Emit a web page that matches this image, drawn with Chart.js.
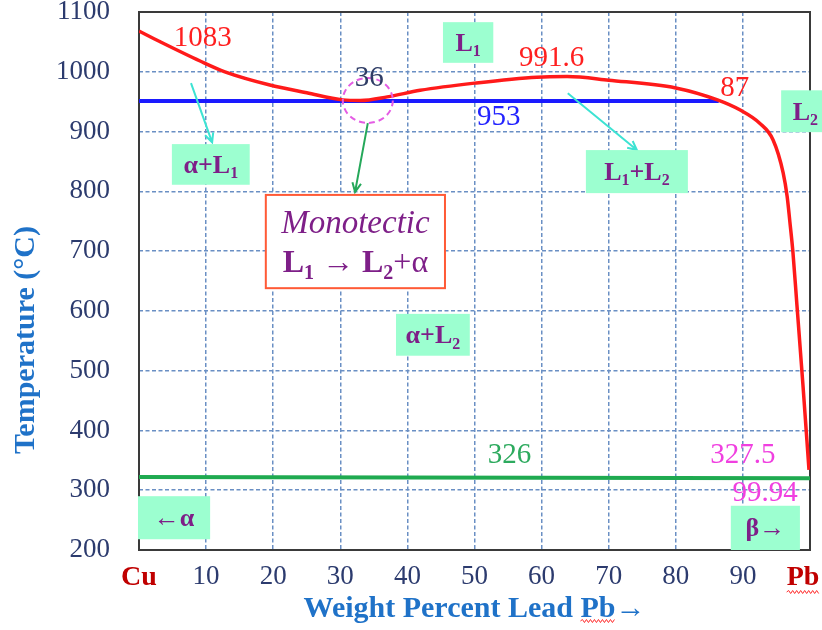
<!DOCTYPE html>
<html>
<head>
<meta charset="utf-8">
<title>Cu-Pb phase diagram</title>
<script src="https://cdn.jsdelivr.net/npm/chart.js@4.4.0/dist/chart.umd.min.js"></script>
<style>
  html, body { margin: 0; padding: 0; background: #fff; }
  canvas { display: block; }
</style>
</head>
<body>
<canvas id="cuPbChart" width="822" height="630"></canvas>
<script>
// liquidus curve (red): wt% Pb vs temperature
const liquidusPb = [0, 3, 9.1, 12.8, 19.5, 25, 30.4, 33, 37, 41.9, 50, 59.3, 63.8, 70, 80, 86.2, 89.6, 92.5, 94.5, 96, 96.6, 97, 97.45, 98.05, 98.95, 99.85];
const liquidusTemp = [1068, 1051, 1018, 1000, 978, 965, 953, 952, 958, 969, 981, 991, 992, 986, 973, 953, 936, 914, 886, 831, 791, 749, 699, 610, 476, 334];

// monotectic isotherm (blue) and eutectic isotherm (green)
const monotecticPb = [0, 86.4];
const monotecticTemp = [951, 951];
const eutecticPb = [0, 100];
const eutecticTemp = [322, 320];

// axis ticks
const xTicks = [0, 10, 20, 30, 40, 50, 60, 70, 80, 90, 100];
const xTickLabels = ['Cu', '10', '20', '30', '40', '50', '60', '70', '80', '90', 'Pb'];
const yTicks = [200, 300, 400, 500, 600, 700, 800, 900, 1000, 1100];

const SERIF = "'Liberation Serif', 'Times New Roman', serif";
const PURPLE = '#7e1f88';
const MINT = '#9cffd0';
const AXIS_BLUE = '#1f72c8';
const TICK_COLOR = '#2c3b6e';

function toPoints(xs, ys) {
  return xs.map((x, i) => ({ x: x, y: ys[i] }));
}

function fontFor(kind, size) {
  if (kind === 'sub') return 'bold ' + Math.round(size * 0.62) + 'px ' + SERIF;
  if (kind === 'i') return 'italic ' + size + 'px ' + SERIF;
  if (kind === 'n') return size + 'px ' + SERIF;
  return 'bold ' + size + 'px ' + SERIF;
}

// draw text made of pieces (bold, subscript...) centred on cx, cy
function drawRich(ctx, parts, cx, cy, size, color) {
  ctx.save();
  ctx.fillStyle = color;
  ctx.textAlign = 'left';
  ctx.textBaseline = 'alphabetic';
  let total = 0;
  const widths = parts.map(([t, k]) => {
    ctx.font = fontFor(k, size);
    const w = ctx.measureText(t).width;
    total += w;
    return w;
  });
  let x = cx - total / 2;
  const base = cy + size * 0.33;
  parts.forEach(([t, k], i) => {
    ctx.font = fontFor(k, size);
    ctx.fillText(t, x, k === 'sub' ? base + size * 0.2 : base);
    x += widths[i];
  });
  ctx.restore();
}

function drawArrow(ctx, x0, y0, x1, y1, color) {
  const ang = Math.atan2(y1 - y0, x1 - x0);
  const head = 10;
  ctx.save();
  ctx.strokeStyle = color;
  ctx.lineWidth = 2;
  ctx.beginPath();
  ctx.moveTo(x0, y0);
  ctx.lineTo(x1, y1);
  ctx.moveTo(x1 - head * Math.cos(ang - 0.45), y1 - head * Math.sin(ang - 0.45));
  ctx.lineTo(x1, y1);
  ctx.lineTo(x1 - head * Math.cos(ang + 0.45), y1 - head * Math.sin(ang + 0.45));
  ctx.stroke();
  ctx.restore();
}

function squiggle(ctx, x0, x1, y) {
  ctx.save();
  ctx.strokeStyle = '#ff2a2a';
  ctx.lineWidth = 1;
  ctx.beginPath();
  let up = true;
  ctx.moveTo(x0, y);
  for (let x = x0 + 2; x <= x1; x += 2) {
    ctx.lineTo(x, up ? y - 1.5 : y + 1.5);
    up = !up;
  }
  ctx.stroke();
  ctx.restore();
}

// labels placed in data units (wt% Pb, deg C)
const numberLabels = [
  { text: '1083', x: 9.5, y: 1056, color: '#ff2020' },
  { text: '991.6', x: 61.5, y: 1023, color: '#ff2020' },
  { text: '36', x: 34.3, y: 989, color: '#2f3d66' },
  { text: '953', x: 53.6, y: 923, color: '#2323ff' },
  { text: '87', x: 88.8, y: 973, color: '#ff2020' },
  { text: '326', x: 55.2, y: 359, color: '#2daa5e' },
  { text: '327.5', x: 90, y: 359, color: '#f040e0' },
  { text: '99.94', x: 93.3, y: 294, color: '#f040e0' }
];

const phaseBoxes = [
  { x0: 45.3, x1: 52.8, y0: 1083, y1: 1015, parts: [['L', 'b'], ['1', 'sub']] },
  { x0: 4.9, x1: 16.5, y0: 879, y1: 811, parts: [['α+L', 'b'], ['1', 'sub']] },
  { x0: 66.6, x1: 81.8, y0: 869, y1: 797, parts: [['L', 'b'], ['1', 'sub'], ['+L', 'b'], ['2', 'sub']] },
  { x0: 95.7, x1: 105, y0: 969, y1: 899, tx: 99.3, parts: [['L', 'b'], ['2', 'sub']] },
  { x0: 38.3, x1: 49.3, y0: 595, y1: 525, parts: [['α+L', 'b'], ['2', 'sub']] },
  { x0: -0.15, x1: 10.6, y0: 290, y1: 218, parts: [['←α', 'b']] },
  { x0: 88.2, x1: 98.5, y0: 274, y1: 200, parts: [['β→', 'b']] }
];

const phasePlugin = {
  id: 'phaseAnnotations',
  beforeDatasetsDraw(chart) {
    const { ctx, chartArea: a } = chart;
    ctx.save();
    ctx.strokeStyle = '#3a3a3a';
    ctx.lineWidth = 2;
    ctx.strokeRect(a.left, a.top, a.right - a.left, a.bottom - a.top);
    ctx.restore();
  },
  afterDatasetsDraw(chart) {
    const { ctx } = chart;
    const sx = chart.scales.x;
    const sy = chart.scales.y;
    const px = (v) => sx.getPixelForValue(v);
    const py = (v) => sy.getPixelForValue(v);

    // arrows
    drawArrow(ctx, px(7.75), py(981), px(10.9), py(882), '#3de3d3');
    drawArrow(ctx, px(63.9), py(964), px(74.2), py(869), '#3de3d3');
    drawArrow(ctx, px(34.1), py(914), px(32.2), py(799), '#25a85a');

    // dashed circle round the monotectic point
    ctx.save();
    ctx.strokeStyle = '#e45ce4';
    ctx.lineWidth = 2;
    ctx.setLineDash([6, 4]);
    ctx.beginPath();
    ctx.ellipse(px(34.1), py(952), 25, 22.5, 0, 0, Math.PI * 2);
    ctx.stroke();
    ctx.restore();

    // phase field boxes
    phaseBoxes.forEach((b) => {
      const left = px(b.x0), right = Math.min(px(b.x1), chart.width);
      const top = py(b.y0), bottom = py(b.y1);
      ctx.fillStyle = MINT;
      ctx.fillRect(left, top, right - left, bottom - top);
      const cx = b.tx !== undefined ? px(b.tx) : (left + right) / 2;
      drawRich(ctx, b.parts, cx, (top + bottom) / 2, 26, PURPLE);
    });

    // monotectic reaction box
    const mL = px(18.9), mR = px(45.6), mT = py(794), mB = py(638);
    ctx.save();
    ctx.fillStyle = '#ffffff';
    ctx.fillRect(mL, mT, mR - mL, mB - mT);
    ctx.strokeStyle = '#ff5a36';
    ctx.lineWidth = 2;
    ctx.strokeRect(mL, mT, mR - mL, mB - mT);
    ctx.restore();
    const mc = (mL + mR) / 2;
    drawRich(ctx, [['Monotectic', 'i']], mc, py(748), 33, PURPLE);
    drawRich(ctx, [['L', 'b'], ['1', 'sub'], [' → ', 'b'], ['L', 'b'], ['2', 'sub'], ['+α', 'n']], mc, py(682), 32, PURPLE);

    // value labels
    ctx.save();
    ctx.textAlign = 'center';
    ctx.textBaseline = 'middle';
    ctx.font = '29px ' + SERIF;
    numberLabels.forEach((l) => {
      ctx.fillStyle = l.color;
      ctx.fillText(l.text, px(l.x), py(l.y));
    });
    ctx.restore();

    // y axis title
    ctx.save();
    ctx.translate(26, 340);
    ctx.rotate(-Math.PI / 2);
    ctx.fillStyle = AXIS_BLUE;
    ctx.font = 'bold 30px ' + SERIF;
    ctx.textAlign = 'center';
    ctx.textBaseline = 'middle';
    ctx.fillText('Temperature (°C)', 0, 0);
    ctx.restore();

    // red spell-check waves under "Pb"
    ctx.save();
    ctx.font = 'bold 28px ' + SERIF;
    const full = ctx.measureText('Pb  ').width;
    const pbW = ctx.measureText('Pb').width;
    const pbStart = px(100) - full / 2;
    squiggle(ctx, pbStart, pbStart + pbW, 592);
    ctx.font = 'bold 30px ' + SERIF;
    const t = chart.options.scales.x.title.text;
    const tw = ctx.measureText(t).width;
    const tStart = (sx.left + sx.right) / 2 - tw / 2 + ctx.measureText('Weight Percent Lead ').width;
    squiggle(ctx, tStart, tStart + ctx.measureText('Pb').width, 621);
    ctx.restore();
  }
};

const ctx = document.getElementById('cuPbChart').getContext('2d');
new Chart(ctx, {
  type: 'scatter',
  data: {
    datasets: [
      {
        label: 'Liquidus',
        data: toPoints(liquidusPb, liquidusTemp),
        showLine: true,
        borderColor: '#ff1a1a',
        borderWidth: 3.5,
        pointRadius: 0,
        cubicInterpolationMode: 'monotone'
      },
      {
        label: 'Monotectic 953',
        data: toPoints(monotecticPb, monotecticTemp),
        showLine: true,
        borderColor: '#1a1aff',
        borderWidth: 4,
        pointRadius: 0
      },
      {
        label: 'Eutectic 326',
        data: toPoints(eutecticPb, eutecticTemp),
        showLine: true,
        borderColor: '#1faa50',
        borderWidth: 4,
        pointRadius: 0
      }
    ]
  },
  options: {
    responsive: false,
    animation: false,
    devicePixelRatio: 1,
    layout: { padding: { top: 12, right: 12, bottom: 0, left: 0 } },
    plugins: {
      legend: { display: false },
      tooltip: { enabled: false }
    },
    scales: {
      x: {
        type: 'linear',
        min: 0,
        max: 100,
        afterBuildTicks: (scale) => {
          scale.ticks = xTicks.map((v) => ({ value: v }));
        },
        afterFit: (scale) => {
          scale.height = 80;
          scale.paddingLeft = 0;
          scale.paddingRight = 0;
        },
        grid: { color: '#6a8fc4', lineWidth: 1.5, drawTicks: false },
        border: { display: false, dash: [4, 2.5] },
        ticks: {
          padding: 11,
          callback: (v) => {
            const lbl = xTickLabels[xTicks.indexOf(v)];
            return v === 100 ? lbl + '  ' : lbl;
          },
          color: (c) => (c.tick && (c.tick.value === 0 || c.tick.value === 100) ? '#c00000' : TICK_COLOR),
          font: (c) => (c.tick && (c.tick.value === 0 || c.tick.value === 100)
            ? { family: SERIF, size: 28, weight: 'bold' }
            : { family: SERIF, size: 27 })
        },
        title: {
          display: true,
          text: 'Weight Percent Lead Pb→',
          color: AXIS_BLUE,
          font: { family: SERIF, size: 30, weight: 'bold' },
          padding: { top: 0, bottom: 3 }
        }
      },
      y: {
        min: 200,
        max: 1100,
        afterBuildTicks: (scale) => {
          scale.ticks = yTicks.map((v) => ({ value: v }));
        },
        afterFit: (scale) => {
          scale.width = 139;
          scale.paddingTop = 0;
          scale.paddingBottom = 0;
        },
        grid: { color: '#6a8fc4', lineWidth: 1.5, drawTicks: false },
        border: { display: false, dash: [4, 2.5] },
        ticks: {
          padding: 29,
          color: TICK_COLOR,
          font: { family: SERIF, size: 27 },
          callback: (v) => String(v)
        }
      }
    }
  },
  plugins: [phasePlugin]
});
</script>
</body>
</html>
